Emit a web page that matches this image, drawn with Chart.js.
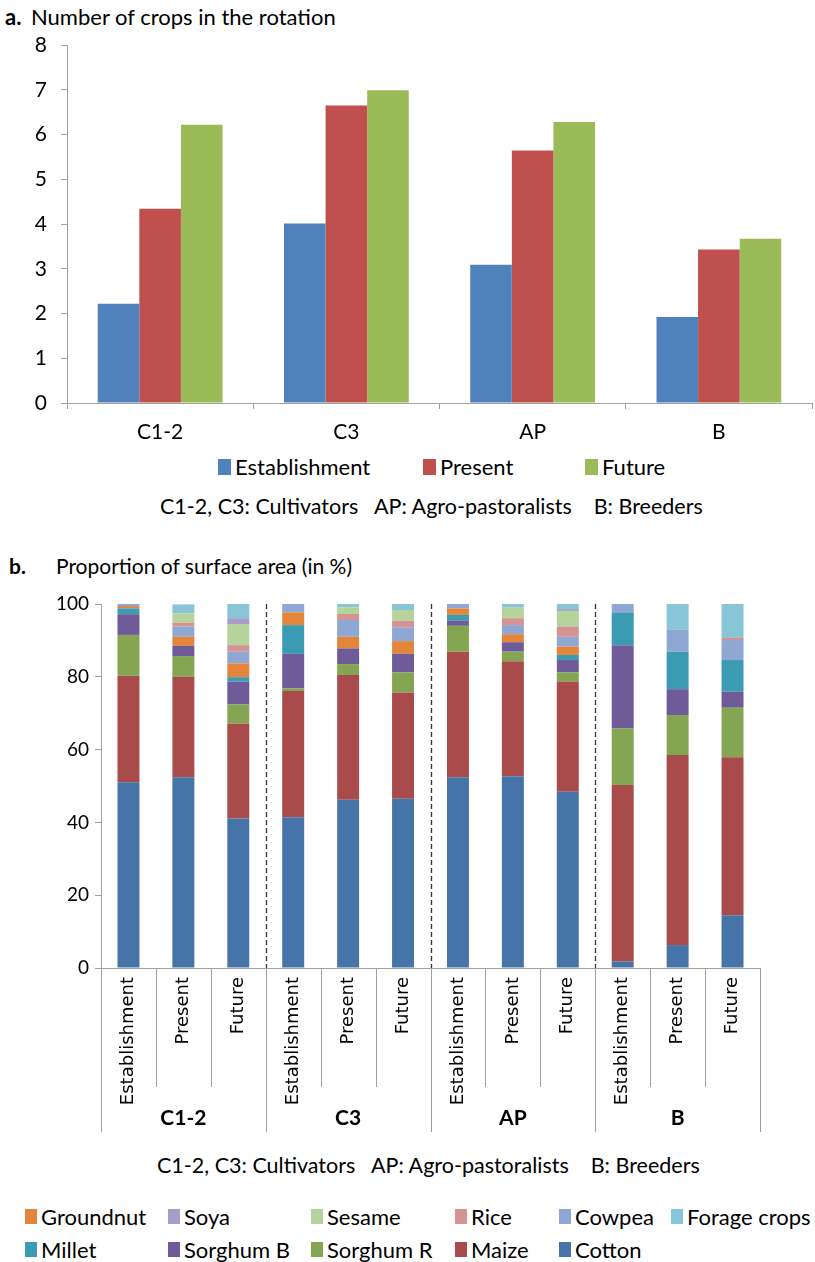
<!DOCTYPE html>
<html>
<head>
<meta charset="utf-8">
<script src="https://cdn.jsdelivr.net/npm/chart.js@4"></script>
<style>
  html, body { margin:0; padding:0; background:#fff; }
  #page { position:relative; width:815px; height:1262px; overflow:hidden; font-family: Lato, "Open Sans", sans-serif; color:#000; }
  .abs { position:absolute; white-space:pre; }
  canvas { position:absolute; left:0; }
  .leg { position:absolute; display:flex; align-items:center; white-space:pre; }
  .box { display:inline-block; margin-right:4px; }
</style>
</head>
<body>
<div id="page">
  <div class="abs" style="left:5px; top:3px; font-size:22px;"><b>a.</b></div>
  <div class="abs" style="left:31px; top:3px; font-size:22px;">Number of crops in the rotation</div>
  <div id="wrapA" style="position:absolute; left:0; top:0; width:815px; height:450px;"><canvas id="chartA"></canvas></div>
  <div id="legendA"></div>
  <div class="abs" style="left:160px; top:493px; font-size:21.5px;">C1-2, C3: Cultivators   AP: Agro-pastoralists    B: Breeders</div>
  <div class="abs" style="left:9px; top:553px; font-size:21px;"><b>b.</b></div>
  <div class="abs" style="left:56px; top:553px; font-size:21px;">Proportion of surface area (in %)</div>
  <div id="wrapB" style="position:absolute; left:0; top:560px; width:815px; height:580px;"><canvas id="chartB"></canvas></div>
  <div class="abs" style="left:157px; top:1152px; font-size:21.5px;">C1-2, C3: Cultivators   AP: Agro-pastoralists    B: Breeders</div>
  <div id="legendB"></div>
</div>
<script>
// ---------- Data: panel a ----------
const groups = ['C1-2', 'C3', 'AP', 'B'];
const periods = ['Establishment', 'Present', 'Future'];
const cropsEstablishment = [2.22, 4.01, 3.09, 1.92];
const cropsPresent = [4.34, 6.65, 5.64, 3.43];
const cropsFuture = [6.22, 6.99, 6.28, 3.67];
const yTicksA = [0, 1, 2, 3, 4, 5, 6, 7, 8];

// ---------- Data: panel b (12 bars: C1-2 E/P/F, C3 E/P/F, AP E/P/F, B E/P/F) ----------
const barLabelsB = ['Establishment','Present','Future','Establishment','Present','Future','Establishment','Present','Future','Establishment','Present','Future'];
const cotton    = [51.0, 52.4, 41.1, 41.4, 46.2, 46.5, 52.4, 52.7, 48.4, 1.8, 6.3, 14.5];
const maize     = [29.3, 27.6, 26.1, 34.7, 34.3, 29.2, 34.5, 31.6, 30.3, 48.5, 52.2, 43.4];
const sorghumR  = [11.2, 5.7, 5.2, 0.7, 3.0, 5.5, 7.1, 2.6, 2.5, 15.5, 11.0, 13.6];
const sorghumB  = [5.7, 2.8, 6.3, 9.5, 4.3, 5.1, 1.4, 2.6, 3.4, 22.9, 7.1, 4.4];
const millet    = [1.6, 0, 1.2, 7.9, 0, 0, 1.6, 0, 1.4, 9.0, 10.3, 8.7];
const groundnut = [0.65, 2.5, 3.8, 3.5, 3.2, 3.5, 1.8, 2.2, 2.3, 0, 0, 0];
const cowpea    = [0.55, 2.8, 3.2, 2.3, 4.6, 3.8, 1.2, 2.5, 2.7, 2.3, 6.0, 5.5];
const rice      = [0, 1.1, 1.8, 0, 1.65, 1.8, 0, 1.9, 2.8, 0, 0, 0.6];
const sesame    = [0, 2.5, 5.8, 0, 1.85, 2.95, 0, 2.9, 4.3, 0, 0, 0];
const soya      = [0, 0, 1.6, 0, 0, 0, 0, 0, 0.5, 0, 0, 0];
const forage    = [0, 2.5, 3.9, 0, 0.9, 1.65, 0, 1.0, 1.4, 0, 7.1, 9.3];
const yTicksB = [0, 20, 40, 60, 80, 100];

// ---------- Styles ----------
const periodColors = ['#4f81bd', '#c0504d', '#9bbb59'];
const cropSeries = [
  { name:'Cotton', data:cotton, color:'#4674a9' },
  { name:'Maize', data:maize, color:'#a94b4a' },
  { name:'Sorghum R', data:sorghumR, color:'#84a552' },
  { name:'Sorghum B', data:sorghumB, color:'#6e5b98' },
  { name:'Millet', data:millet, color:'#3a9bb2' },
  { name:'Groundnut', data:groundnut, color:'#e3863b' },
  { name:'Cowpea', data:cowpea, color:'#8ea7d3' },
  { name:'Rice', data:rice, color:'#d69394' },
  { name:'Sesame', data:sesame, color:'#b4d49c' },
  { name:'Soya', data:soya, color:'#a99cc7' },
  { name:'Forage crops', data:forage, color:'#88c5d6' }
];
const legendBOrder = [['Groundnut','Soya','Sesame','Rice','Cowpea','Forage crops'],['Millet','Sorghum B','Sorghum R','Maize','Cotton']];
const legendBCols = [25, 168, 311, 455, 559, 671];
const legendBRows = [1217, 1250];
const legendACols = [218, 423, 585];
const axisGrey = '#a0a0a0';
const baseFont = 'Lato';

Chart.defaults.font.family = baseFont;
Chart.defaults.color = '#000';

// ---------- Panel a ----------
const seriesA = [cropsEstablishment, cropsPresent, cropsFuture];
new Chart(document.getElementById('chartA'), {
  type: 'bar',
  data: {
    labels: groups,
    datasets: periods.map((p, i) => ({
      label: p, data: seriesA[i], backgroundColor: periodColors[i],
      borderWidth: 0, categoryPercentage: 0.67, barPercentage: 1.0
    }))
  },
  options: {
    responsive: true, maintainAspectRatio: false, animation: false,
    layout: { padding: { top: 45, right: 3, left: 0, bottom: 0 } },
    plugins: { legend: { display: false }, tooltip: { enabled: false } },
    scales: {
      x: {
        grid: { offset: true, drawOnChartArea: false, drawTicks: true, tickLength: 6, color: axisGrey },
        border: { color: axisGrey },
        ticks: { font: { size: 21 }, padding: 11, color: '#000' },
        afterFit: s => { s.height = 47; }
      },
      y: {
        min: 0, max: 8,
        afterBuildTicks: s => { s.ticks = yTicksA.map(v => ({ value: v })); },
        grid: { drawOnChartArea: false, drawTicks: true, tickLength: 6, color: axisGrey },
        border: { color: axisGrey },
        ticks: { font: { size: 21 }, padding: 14, color: '#000' },
        afterFit: s => { s.width = 67; }
      }
    }
  }
});

// legend a
const legA = document.getElementById('legendA');
periods.forEach((p, i) => {
  const d = document.createElement('div');
  d.className = 'leg';
  d.style.left = legendACols[i] + 'px';
  d.style.top = '453px';
  d.style.fontSize = '22px';
  d.innerHTML = '<span class="box" style="width:13px;height:16px;background:' + periodColors[i] + '"></span>' + p;
  legA.appendChild(d);
});

// ---------- Panel b ----------
const groupLinesPlugin = {
  id: 'groupLines',
  afterDraw(chart) {
    const x = chart.scales.x, y = chart.scales.y, ctx = chart.ctx;
    const n = chart.data.labels.length;
    const bx = i => i === 0 ? x.left : (i === n ? x.right : (x.getPixelForValue(i - 1) + x.getPixelForValue(i)) / 2);
    ctx.save();
    ctx.lineWidth = 1;
    ctx.strokeStyle = axisGrey;
    for (let i = 0; i <= n; i++) {
      const isGroup = i % 3 === 0;
      const px = Math.round(bx(i)) + 0.5;
      ctx.beginPath();
      ctx.moveTo(px, y.bottom);
      ctx.lineTo(px, y.bottom + (isGroup ? 164 : 119));
      ctx.stroke();
    }
    ctx.strokeStyle = '#333';
    ctx.lineWidth = 1.3;
    ctx.setLineDash([5, 3]);
    for (let i = 3; i < n; i += 3) {
      const px = Math.round(bx(i)) + 0.5;
      ctx.beginPath();
      ctx.moveTo(px, y.top);
      ctx.lineTo(px, y.bottom);
      ctx.stroke();
    }
    ctx.setLineDash([]);
    ctx.fillStyle = '#000';
    ctx.font = 'bold 21px ' + baseFont;
    ctx.textAlign = 'center';
    ctx.textBaseline = 'middle';
    groups.forEach((g, k) => {
      const cx = (bx(3 * k) + bx(3 * k + 3)) / 2;
      ctx.fillText(g, cx, y.bottom + 150);
    });
    ctx.restore();
  }
};

new Chart(document.getElementById('chartB'), {
  type: 'bar',
  data: {
    labels: barLabelsB,
    datasets: cropSeries.map(s => ({
      label: s.name, data: s.data, backgroundColor: s.color,
      borderWidth: 0, categoryPercentage: 1.0, barPercentage: 0.4, stack: 'a'
    }))
  },
  options: {
    responsive: true, maintainAspectRatio: false, animation: false,
    layout: { padding: { top: 44, right: 55, left: 0, bottom: 0 } },
    plugins: { legend: { display: false }, tooltip: { enabled: false } },
    scales: {
      x: {
        stacked: true,
        grid: { display: true, drawOnChartArea: false, drawTicks: false },
        border: { color: axisGrey },
        ticks: { font: { family: 'DejaVu Sans', size: 18 }, padding: 9, minRotation: 90, maxRotation: 90, autoSkip: false, color: '#000' },
        afterFit: s => { s.height = 172; }
      },
      y: {
        stacked: true, min: 0, max: 100,
        afterBuildTicks: s => { s.ticks = yTicksB.map(v => ({ value: v })); },
        grid: { drawOnChartArea: false, drawTicks: true, tickLength: 6, color: axisGrey },
        border: { color: axisGrey },
        ticks: { font: { size: 19 }, padding: 6, color: '#000' },
        afterFit: s => { s.width = 101; }
      }
    }
  },
  plugins: [groupLinesPlugin]
});

// legend b
const legB = document.getElementById('legendB');
legendBOrder.forEach((row, r) => {
  row.forEach((name, c) => {
    const s = cropSeries.find(z => z.name === name);
    const d = document.createElement('div');
    d.className = 'leg';
    d.style.left = legendBCols[c] + 'px';
    d.style.top = (legendBRows[r] - 14) + 'px';
    d.style.fontSize = '22px';
    d.innerHTML = '<span class="box" style="width:12px;height:15px;background:' + s.color + '"></span>' + name;
    legB.appendChild(d);
  });
});
</script>
</body>
</html>
